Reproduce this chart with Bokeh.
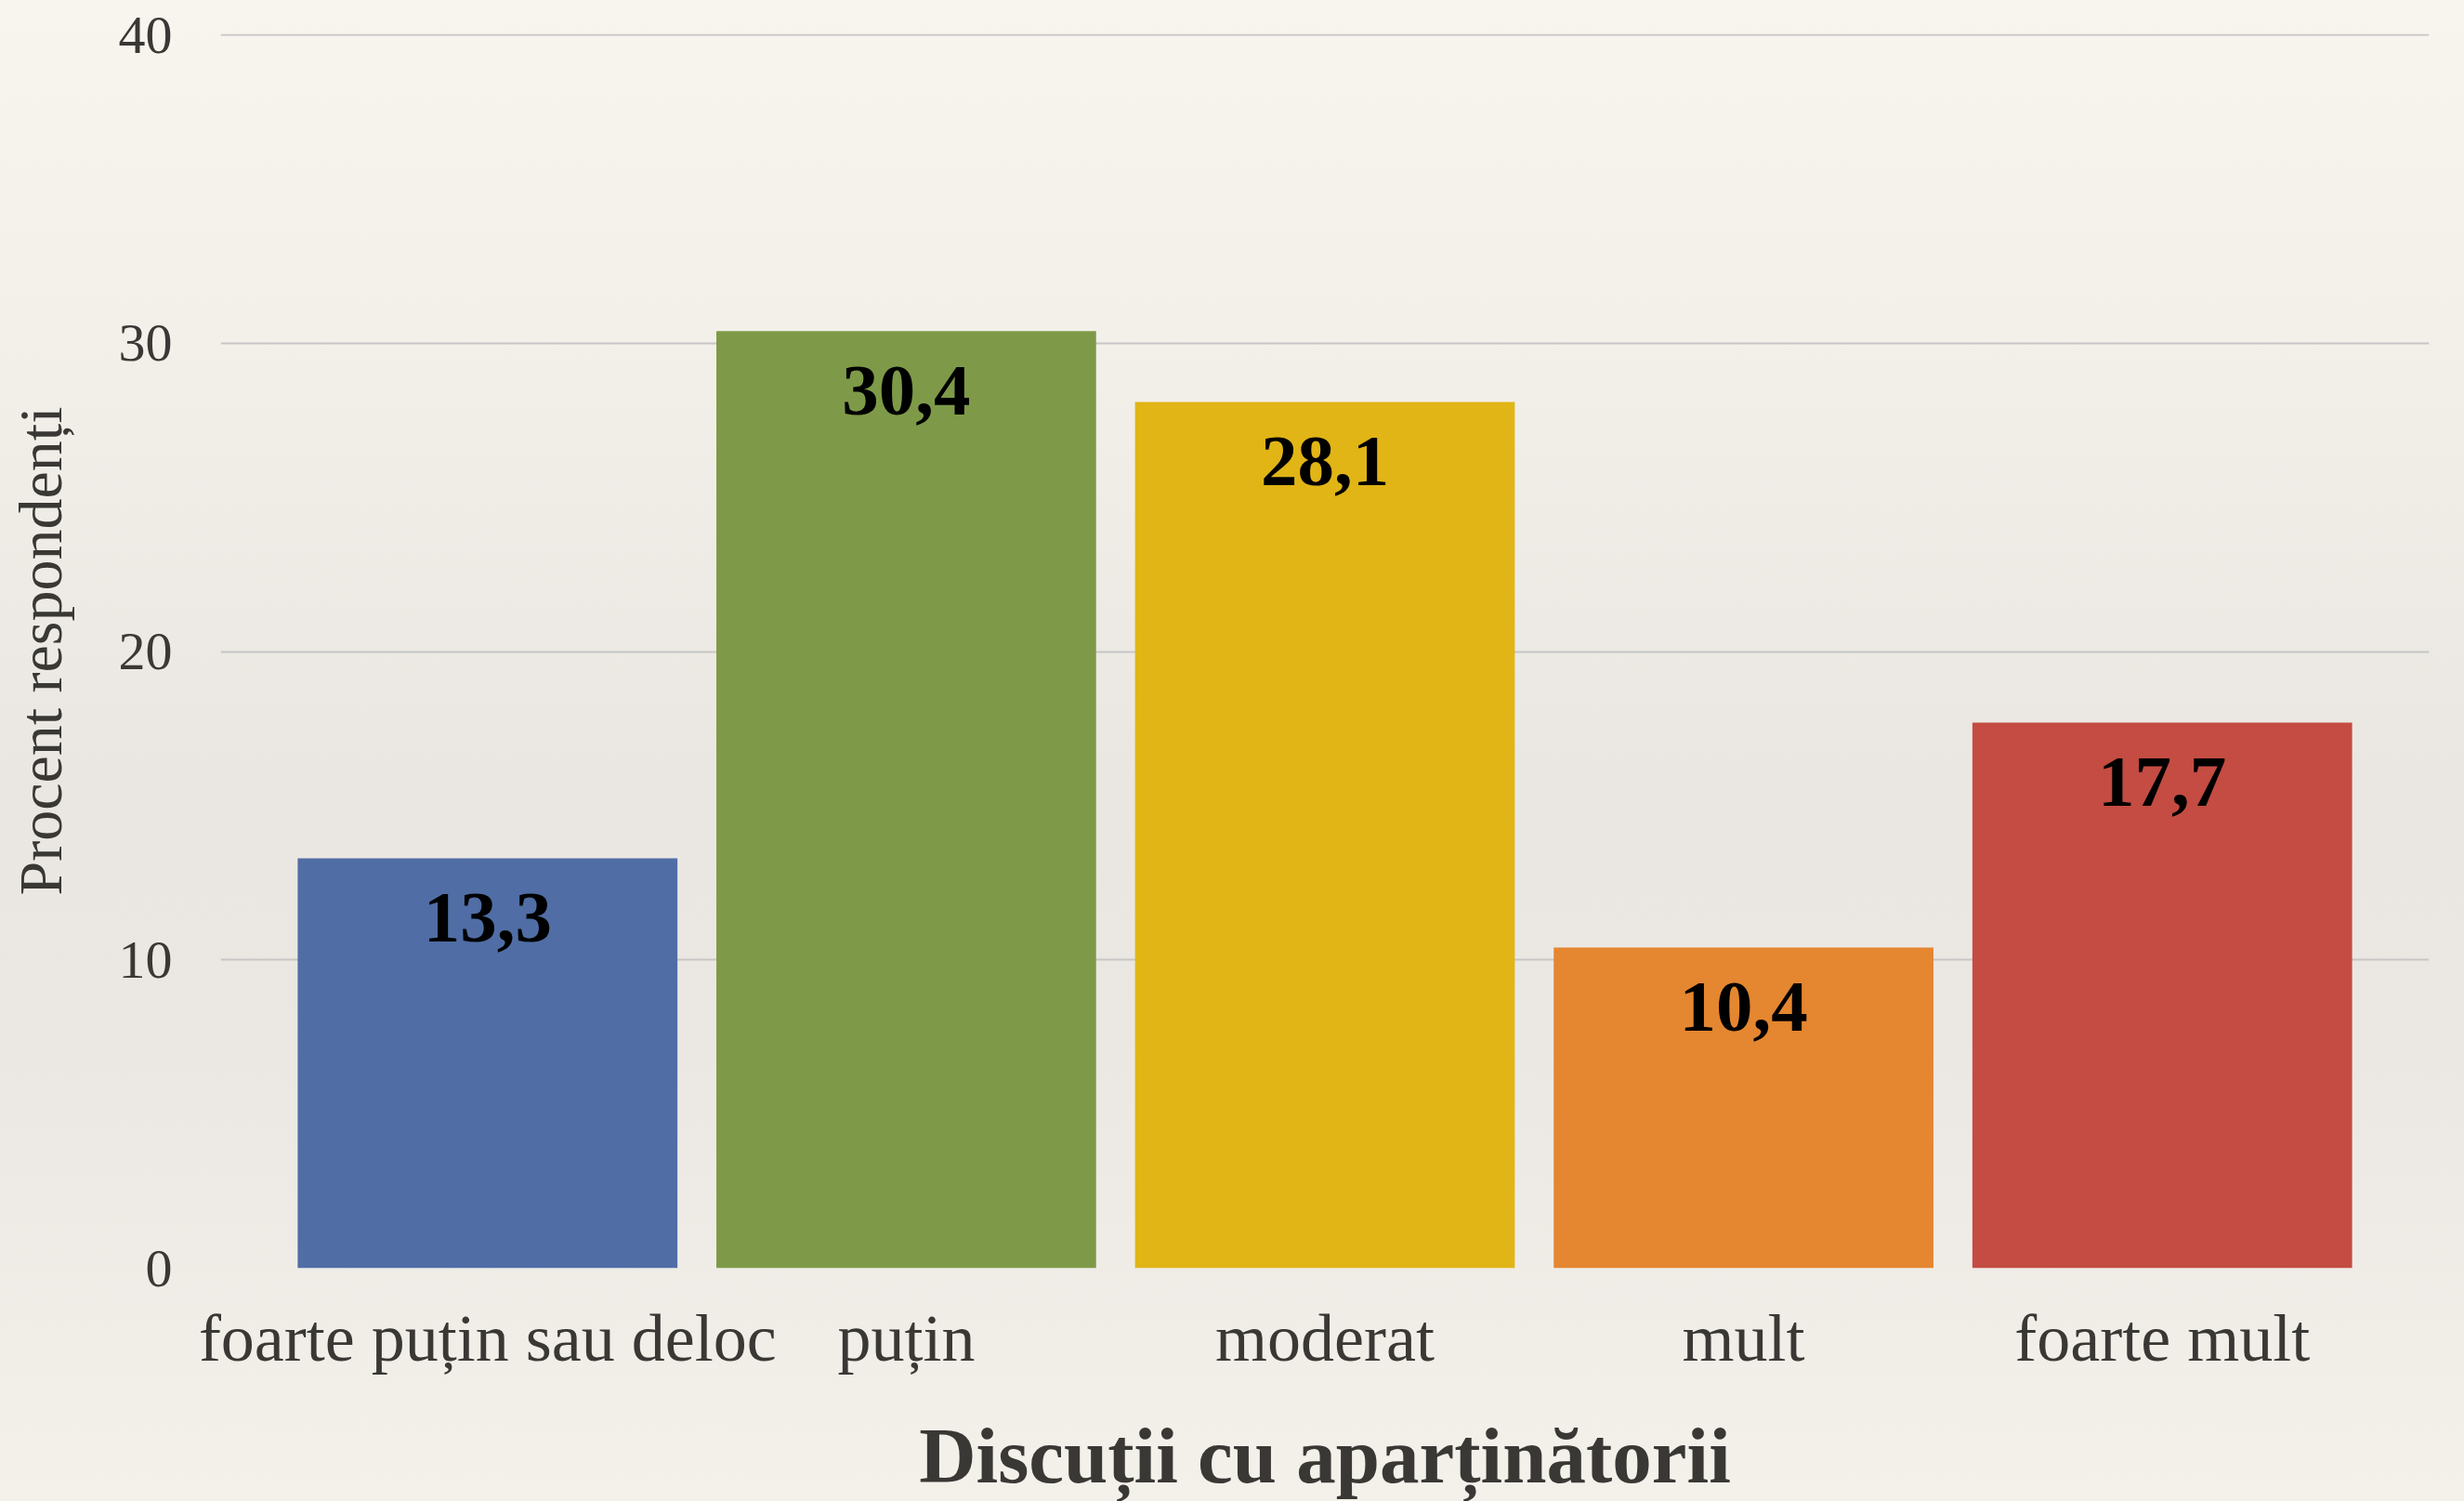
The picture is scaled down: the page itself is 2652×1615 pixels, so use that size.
from bokeh.plotting import figure
from bokeh.models import ColumnDataSource, FactorRange, Range1d, FixedTicker
from bokeh.core.properties import value
from bokeh.embed import file_html
from bokeh.resources import INLINE

categories = ["foarte puțin sau deloc", "puțin", "moderat", "mult", "foarte mult"]
values = [13.3, 30.4, 28.1, 10.4, 17.7]
labels = ["13,3", "30,4", "28,1", "10,4", "17,7"]
colors = ["#506EA5", "#7E9A48", "#E1B516", "#E58630", "#C44C42"]
y_ticks = [0, 10, 20, 30, 40]

FONT = "Liberation Serif"
TXT = "#3A3835"

src = ColumnDataSource(dict(cat=categories, val=values, lab=labels, col=colors))

p = figure(
    width=2652, height=1615,
    x_range=FactorRange(factors=categories, range_padding=0.055, range_padding_units="percent"),
    y_range=Range1d(0, 40.04),
    output_backend="svg", toolbar_location=None,
    min_border_left=237, min_border_right=38, min_border_top=36, min_border_bottom=249,
)
p.background_fill_color = None
p.border_fill_color = None
p.outline_line_color = None
p.styles = {"background": "linear-gradient(180deg, #F8F5EF 0%, #F3F0EA 22%, #EAE7E2 52%, #EBE8E3 70%, #F4F1EB 100%)"}

p.vbar(x="cat", top="val", width=0.907, source=src, fill_color="col", line_color=None)

p.text(x="cat", y="val", text="lab", source=src, y_offset=64,
       text_align="center", text_baseline="middle",
       text_font=value(FONT), text_font_size="79px", text_font_style="bold",
       text_color="#000000")

# y axis
p.yaxis.ticker = FixedTicker(ticks=y_ticks)
p.yaxis.axis_line_color = None
p.yaxis.major_tick_line_color = None
p.yaxis.minor_tick_line_color = None
p.yaxis.major_label_text_font = FONT
p.yaxis.major_label_text_font_size = "58px"
p.yaxis.major_label_text_color = TXT
p.yaxis.major_label_standoff = 46
p.yaxis.axis_label = "Procent respondenți"
p.yaxis.axis_label_text_font = FONT
p.yaxis.axis_label_text_font_size = "66px"
p.yaxis.axis_label_text_font_style = "normal"
p.yaxis.axis_label_text_color = TXT
p.yaxis.axis_label_standoff = 45

# x axis
p.xaxis.axis_line_color = None
p.xaxis.major_tick_line_color = None
p.xaxis.minor_tick_line_color = None
p.xaxis.major_label_text_font = FONT
p.xaxis.major_label_text_font_size = "72px"
p.xaxis.major_label_text_color = TXT
p.xaxis.major_label_standoff = 29
p.xaxis.axis_label = "Discuții cu aparținătorii"
p.xaxis.axis_label_text_font = FONT
p.xaxis.axis_label_text_font_size = "85px"
p.xaxis.axis_label_text_font_style = "bold"
p.xaxis.axis_label_text_color = TXT
p.xaxis.axis_label_standoff = 36

p.xgrid.grid_line_color = None
p.ygrid.grid_line_color = "#C6C6C6"
p.ygrid.grid_line_width = 2

html = file_html(p, INLINE)
html = html.replace("<head>", "<head><style>body{background:#F6F3ED;}</style>", 1)
open("out.html", "w").write(html)
